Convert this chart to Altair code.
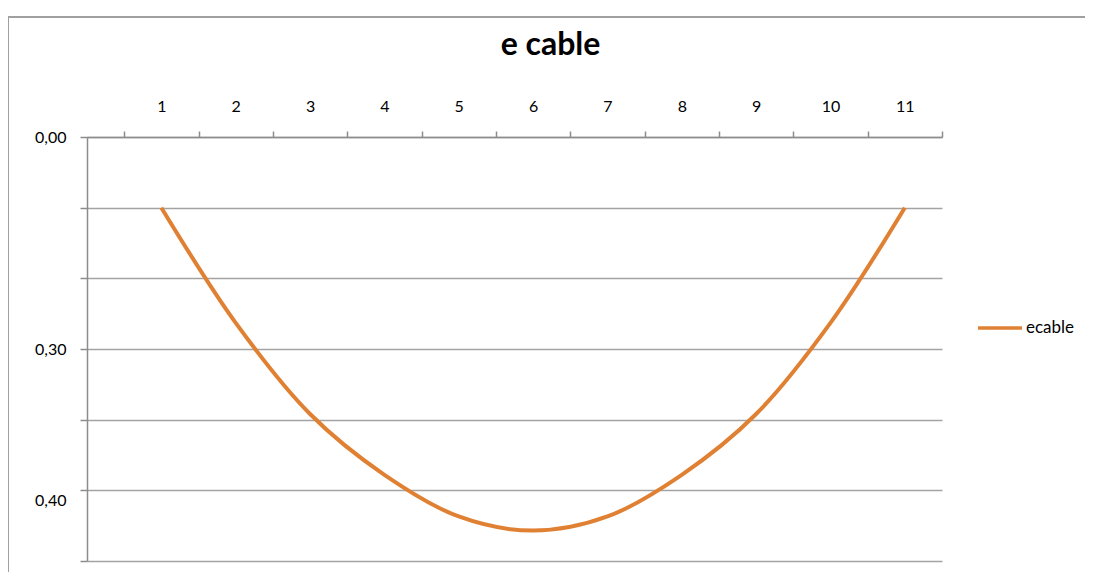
import altair as alt
import pandas as pd

# data
points = [1, 2, 3, 4, 5, 6, 7, 8, 9, 10, 11]
ecable = [0.100, 0.263, 0.392, 0.478, 0.537, 0.557, 0.537, 0.478, 0.392, 0.263, 0.100]
series = ["ecable"] * len(points)

x_tick_values = [0.5, 1, 1.5, 2, 2.5, 3, 3.5, 4, 4.5, 5, 5.5, 6, 6.5, 7, 7.5, 8, 8.5, 9, 9.5, 10, 10.5, 11, 11.5]
y_tick_values = [0.0, 0.1, 0.2, 0.3, 0.4, 0.5, 0.6]
y_tick_labels = ["0,00", "", "", "0,30", "", "0,40", ""]

df = pd.DataFrame({"point": points, "value": ecable, "series": series})

FONT = "Lato"
ORANGE = "#DF8033"
GRID = "#A3A3A3"
AXIS = "#8C8C8C"

y_label_expr = " : ".join(
    [f"datum.value == {v} ? '{l}'" for v, l in zip(y_tick_values, y_tick_labels) if l]
) + " : ''"

line = alt.Chart(df).mark_line(interpolate="catmull-rom", strokeWidth=4).encode(
    x=alt.X(
        "point:Q",
        scale=alt.Scale(domain=[0, 11.5], nice=False, zero=False),
        axis=alt.Axis(
            orient="top",
            title=None,
            values=x_tick_values,
            grid=False,
            labelExpr="datum.value % 1 == 0 ? '' + datum.value : ''",
            labelOverlap=False,
            tickOpacity={"condition": {"test": "datum.value % 1 == 0", "value": 0}, "value": 1},
            tickSize=6,
            tickColor=AXIS,
            tickWidth=1.5,
            domainColor=AXIS,
            domainWidth=1.5,
            labelFont=FONT,
            labelFontSize=16,
            labelColor="#000000",
            labelPadding=17,
            labelFlush=False,
        ),
    ),
    y=alt.Y(
        "value:Q",
        scale=alt.Scale(domain=[0, 0.6], reverse=True, nice=False),
        axis=alt.Axis(
            title=None,
            values=y_tick_values,
            labelExpr=y_label_expr,
            labelOverlap=False,
            grid=True,
            gridColor=GRID,
            gridWidth=1.5,
            tickSize=7,
            tickColor=AXIS,
            tickWidth=1.5,
            domainColor=AXIS,
            domainWidth=1.5,
            labelFont=FONT,
            labelFontSize=16,
            labelColor="#000000",
            labelPadding=14,
            labelOffset={"condition": {"test": "datum.value == 0.5", "value": 10}, "value": 0},
            labelFlush=False,
        ),
    ),
    color=alt.Color(
        "series:N",
        scale=alt.Scale(range=[ORANGE]),
        legend=alt.Legend(
            title=None,
            orient="none",
            legendX=889,
            legendY=167,
            symbolType="stroke",
            symbolSize=1936,
            symbolStrokeWidth=3.5,
            labelFont=FONT,
            labelFontSize=17,
            labelColor="#000000",
            labelOffset=2,
        ),
    ),
)

border_v = alt.Chart(df).mark_rule(color="#A0A0A0", strokeWidth=1.5).encode(
    x=alt.value(-79), y=alt.value(-120), y2=alt.value(450)
)
border_h = alt.Chart(df).mark_rule(color="#A0A0A0", strokeWidth=1.5).encode(
    x=alt.value(-79), x2=alt.value(1010), y=alt.value(-120)
)

chart = alt.layer(border_v, border_h, line).properties(
    width=855,
    height=424,
    title=alt.TitleParams(
        "e cable",
        font=FONT,
        fontSize=32,
        fontWeight="bold",
        color="#000000",
        anchor="middle",
        dx=36,
        offset=30,
        dy=76,
    ),
    autosize=alt.AutoSizeParams(type="none"),
    padding={"left": 79, "top": 129, "right": 143, "bottom": 11},
).configure_view(strokeWidth=0)

chart.save("out.html", embed_options={"renderer": "svg", "actions": False})
